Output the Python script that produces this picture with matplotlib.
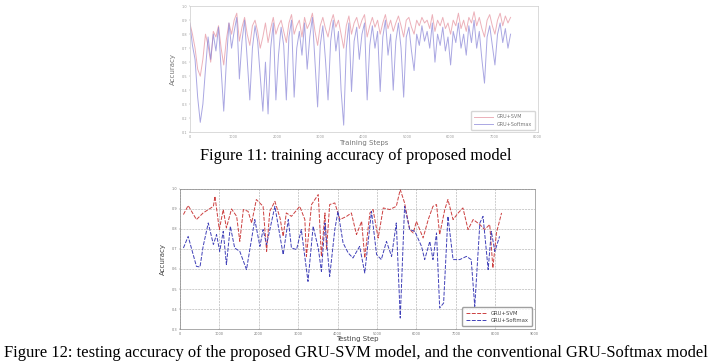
import matplotlib
matplotlib.use('Agg')
import matplotlib.pyplot as plt
import numpy as np

plt.rcParams['font.family'] = ['DejaVu Sans']

# ---- Figure 11: training accuracy ----
train_steps = np.arange(124) * 60
train_svm = [0.88, 0.80, 0.70, 0.55, 0.50, 0.62, 0.80, 0.72, 0.60, 0.82,
             0.78, 0.86, 0.70, 0.58, 0.76, 0.88, 0.80, 0.90, 0.95, 0.75,
             0.85, 0.92, 0.80, 0.72, 0.86, 0.90, 0.82, 0.70, 0.78, 0.88,
             0.74, 0.84, 0.92, 0.80, 0.86, 0.90, 0.82, 0.74, 0.88, 0.94,
             0.80, 0.86, 0.90, 0.78, 0.92, 0.84, 0.88, 0.95, 0.82, 0.72,
             0.86, 0.92, 0.84, 0.78, 0.88, 0.94, 0.85, 0.90, 0.80, 0.70,
             0.86, 0.93, 0.80, 0.88, 0.92, 0.84, 0.90, 0.94, 0.78, 0.86,
             0.92, 0.85, 0.90, 0.80, 0.88, 0.94, 0.84, 0.90, 0.82, 0.88,
             0.93, 0.86, 0.78, 0.90, 0.92, 0.85, 0.80, 0.90, 0.86, 0.92,
             0.88, 0.90, 0.84, 0.94, 0.82, 0.90, 0.86, 0.92, 0.84, 0.88,
             0.80, 0.90, 0.86, 0.95, 0.84, 0.90, 0.82, 0.92, 0.88, 0.96,
             0.86, 0.92, 0.84, 0.78, 0.90, 0.94, 0.86, 0.80, 0.90, 0.95,
             0.86, 0.93, 0.88, 0.92]
train_softmax = [0.88, 0.72, 0.62, 0.35, 0.17, 0.30, 0.55, 0.78, 0.62, 0.80,
                 0.68, 0.85, 0.55, 0.25, 0.60, 0.88, 0.70, 0.82, 0.92, 0.48,
                 0.75, 0.90, 0.62, 0.33, 0.70, 0.86, 0.75, 0.50, 0.25, 0.60,
                 0.23, 0.70, 0.88, 0.33, 0.65, 0.85, 0.72, 0.33, 0.78, 0.90,
                 0.35, 0.70, 0.82, 0.65, 0.88, 0.55, 0.78, 0.92, 0.60, 0.28,
                 0.72, 0.86, 0.62, 0.33, 0.75, 0.90, 0.68, 0.82, 0.40, 0.15,
                 0.70, 0.88, 0.39, 0.75, 0.85, 0.62, 0.80, 0.88, 0.33, 0.72,
                 0.86, 0.70, 0.82, 0.39, 0.78, 0.90, 0.65, 0.80, 0.40, 0.75,
                 0.88, 0.70, 0.35, 0.78, 0.85, 0.68, 0.54, 0.80, 0.72, 0.86,
                 0.75, 0.82, 0.70, 0.88, 0.60, 0.80, 0.72, 0.85, 0.68, 0.78,
                 0.58, 0.82, 0.74, 0.88, 0.70, 0.80, 0.65, 0.86, 0.74, 0.90,
                 0.70, 0.82, 0.62, 0.45, 0.78, 0.86, 0.72, 0.58, 0.80, 0.88,
                 0.74, 0.84, 0.70, 0.80]

# ---- Figure 12: testing accuracy ----
test_steps_svm = [90, 210, 420, 590, 850, 890, 1000, 1100, 1180, 1310,
                  1440, 1520, 1610, 1730, 1820, 1940, 2110, 2200, 2280, 2410,
                  2540, 2620, 2700, 2830, 3040, 3170, 3210, 3340, 3510, 3590,
                  3680, 3720, 3800, 3930, 4060, 4230, 4350, 4480, 4610, 4690,
                  4820, 4900, 5030, 5160, 5320, 5490, 5590, 5700, 5830, 5920,
                  6000, 6170, 6300, 6420, 6510, 6590, 6720, 6800, 6930, 7060,
                  7180, 7310, 7440, 7610, 7730, 7860, 7940, 8030, 8160]
test_svm = [0.872, 0.917, 0.847, 0.88, 0.913, 0.963, 0.797, 0.897, 0.805, 0.9,
            0.863, 0.738, 0.897, 0.888, 0.83, 0.947, 0.913, 0.688, 0.888, 0.938,
            0.855, 0.763, 0.88, 0.863, 0.913, 0.847, 0.663, 0.922, 0.972, 0.663,
            0.88, 0.697, 0.922, 0.93, 0.847, 0.863, 0.88, 0.772, 0.838, 0.655,
            0.88, 0.897, 0.755, 0.905, 0.897, 0.913, 0.997, 0.93, 0.797, 0.78,
            0.838, 0.755, 0.847, 0.913, 0.922, 0.772, 0.897, 0.947, 0.847, 0.88,
            0.905, 0.797, 0.847, 0.822, 0.797, 0.822, 0.605, 0.78, 0.88]
test_steps_softmax = [90, 210, 420, 510, 590, 720, 850, 930, 1010, 1100,
                      1180, 1280, 1390, 1520, 1690, 1900, 2030, 2110, 2200, 2410,
                      2540, 2620, 2750, 2830, 2960, 3080, 3250, 3380, 3510, 3590,
                      3680, 3800, 3930, 4010, 4140, 4270, 4390, 4560, 4690, 4860,
                      4990, 5110, 5240, 5370, 5490, 5590, 5700, 5830, 5960, 6130,
                      6210, 6340, 6420, 6510, 6590, 6690, 6800, 6930, 7100, 7270,
                      7390, 7480, 7610, 7690, 7820, 7900, 7990, 8110]
test_softmax = [0.705, 0.763, 0.613, 0.61, 0.713, 0.83, 0.722, 0.772, 0.688, 0.788,
                0.622, 0.813, 0.705, 0.688, 0.597, 0.847, 0.713, 0.797, 0.722, 0.913,
                0.763, 0.672, 0.847, 0.705, 0.697, 0.797, 0.538, 0.813, 0.705, 0.588,
                0.83, 0.563, 0.797, 0.888, 0.73, 0.68, 0.655, 0.713, 0.58, 0.888,
                0.672, 0.647, 0.738, 0.663, 0.83, 0.355, 0.913, 0.797, 0.788, 0.713,
                0.647, 0.738, 0.647, 0.78, 0.405, 0.43, 0.863, 0.647, 0.647, 0.663,
                0.647, 0.413, 0.83, 0.863, 0.597, 0.788, 0.688, 0.763]

fig = plt.figure(figsize=(7.11, 3.64), dpi=100)
tick_fs = 2.5
lab_fs = 5

# top chart
ax1 = fig.add_axes([0.267, 0.637, 0.489, 0.346])
ax1.plot(train_steps, train_svm, color='#eaa8b2', lw=0.7, alpha=0.9, label='GRU+SVM')
ax1.plot(train_steps, train_softmax, color='#8682d6', lw=0.7, alpha=0.7, label='GRU+Softmax')
ax1.set_xlim(0, 8000)
ax1.set_ylim(0.1, 1.0)
ax1.set_xticks(np.arange(0, 8001, 1000))
ax1.set_yticks(np.arange(0.1, 1.01, 0.1))
ax1.tick_params(labelsize=tick_fs, length=1, width=0.3, pad=1, colors='#999999')
ax1.set_xlabel('Training Steps', fontsize=lab_fs, color='#777777', labelpad=0.5)
ax1.set_ylabel('Accuracy', fontsize=lab_fs, color='#777777', labelpad=4)
for s in ax1.spines.values():
    s.set_color('#cccccc')
    s.set_linewidth(0.5)
ax1.legend(loc='lower right', fontsize=3.5, frameon=True, edgecolor='#cccccc',
           handlelength=4, borderpad=0.6, labelcolor='#777777')

# bottom chart
ax2 = fig.add_axes([0.253, 0.096, 0.499, 0.385])
ax2.plot(test_steps_svm, test_svm, color='#cc4040', lw=0.7, ls=(0, (4, 1.5)), label='GRU+SVM')
ax2.plot(test_steps_softmax, test_softmax, color='#4040b8', lw=0.7, ls=(0, (4, 1.5)), label='GRU+Softmax')
ax2.set_xlim(0, 9000)
ax2.set_ylim(0.3, 1.0)
ax2.set_xticks(np.arange(0, 9001, 1000))
ax2.set_yticks(np.arange(0.3, 1.01, 0.1))
ax2.grid(True, ls='--', lw=0.4, color='#aaaaaa')
ax2.tick_params(labelsize=tick_fs, length=1, width=0.3, pad=0.8, colors='#777777')
ax2.set_xlabel('Testing Step', fontsize=lab_fs, color='#444444', labelpad=0)
ax2.set_ylabel('Accuracy', fontsize=lab_fs, color='#444444', labelpad=4)
for s in ax2.spines.values():
    s.set_color('#888888')
    s.set_linewidth(0.5)
ax2.legend(loc='lower right', fontsize=3.8, frameon=True, edgecolor='#888888',
           handlelength=4, borderpad=0.6, labelcolor='#444444')

# captions
fig.text(0.5, 1 - 156 / 364, 'Figure 11: training accuracy of proposed model',
         ha='center', va='center', fontsize=11.8, family='Liberation Serif')
fig.text(0.5, 1 - 353 / 364,
         'Figure 12: testing accuracy of the proposed GRU-SVM model, and the conventional GRU-Softmax model',
         ha='center', va='center', fontsize=11.9, family='Liberation Serif')

fig.savefig('out.png', dpi=100)
